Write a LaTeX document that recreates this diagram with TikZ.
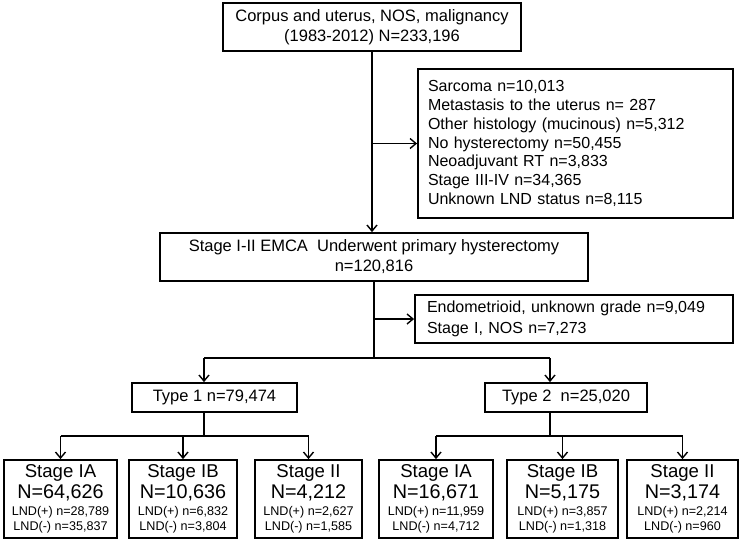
\documentclass[tikz,border=0pt]{standalone}
\usepackage{fontspec}
\setmainfont{Liberation Sans}
\usetikzlibrary{arrows.meta,calc}
\begin{document}
\begin{tikzpicture}[x=1pt,y=-1pt,
  box/.style={draw,line width=1.8pt,inner sep=0pt,align=center},
  body/.style={font=\fontsize{16.5}{20}\selectfont},
  listbox/.style={draw,line width=1.8pt,inner ysep=0pt,align=left,font=\fontsize{16}{18.9}\selectfont},
  stagebox/.style={box,minimum height=78,font=\fontsize{12.6}{15}\selectfont},
  conn/.style={line width=1.4pt},
  arr/.style={conn,-{Straight Barb[length=6pt,width=10pt,line width=1.4pt]}}]
\path[fill=white] (0,0) rectangle (742,542);
\useasboundingbox (0,0) rectangle (742,542);

\node[box,body,minimum width=298,minimum height=48] (top) at (372,27)
  {Corpus and uterus, NOS, malignancy\\(1983-2012) N=233,196};
\node[listbox,inner xsep=10pt,text width=295,minimum height=149] (ex1) at (575.5,143.5)
  {Sarcoma n=10,013\\Metastasis to the uterus n= 287\\Other histology (mucinous) n=5,312\\No hysterectomy n=50,455\\Neoadjuvant RT n=3,833\\Stage III-IV n=34,365\\Unknown LND status n=8,115};
\node[box,body,minimum width=428,minimum height=48] (main) at (374,257)
  {Stage I-II EMCA~~Underwent primary hysterectomy\\n=120,816};
\node[listbox,font=\fontsize{16}{20.5}\selectfont,inner xsep=12pt,text width=294,minimum height=48] (ex2) at (574,319)
  {Endometrioid, unknown grade n=9,049\\Stage I, NOS n=7,273};
\node[box,body,minimum width=165,minimum height=29] (t1) at (214.5,397.5) {Type 1 n=79,474};
\node[box,body,minimum width=162,minimum height=29] (t2) at (566,397.5) {Type 2~~n=25,020};

\newcommand{\stagetext}[3]{{\fontsize{18.6}{19}\selectfont Stage #1}\\[2pt]{\fontsize{19.8}{20}\selectfont N=#2}\\[2pt]#3}
\node[stagebox,minimum width=113] (s1a) at (60.5,499) {\stagetext{IA}{64,626}{LND(+) n=28,789\\LND(-) n=35,837}};
\node[stagebox,minimum width=108] (s1b) at (183,499) {\stagetext{IB}{10,636}{LND(+) n=6,832\\LND(-) n=3,804}};
\node[stagebox,minimum width=107] (s1c) at (308.5,499) {\stagetext{II}{4,212}{LND(+) n=2,627\\LND(-) n=1,585}};
\node[stagebox,minimum width=114] (s2a) at (436,499) {\stagetext{IA}{16,671}{LND(+) n=11,959\\LND(-) n=4,712}};
\node[stagebox,minimum width=111] (s2b) at (562.5,499) {\stagetext{IB}{5,175}{LND(+) n=3,857\\LND(-) n=1,318}};
\node[stagebox,minimum width=111] (s2c) at (682.5,499) {\stagetext{II}{3,174}{LND(+) n=2,214\\LND(-) n=960}};

% connectors
\draw[arr] (top.south) -- (top.south |- main.north);
\draw[arr] (top.south |- ex1.west) -- (ex1.west);
\coordinate (bus) at (374,358);
\coordinate (t1in) at (204,358);
\coordinate (t2in) at (550,358);
\draw[conn] (main.south) -- (bus);
\draw[arr] (main.south |- ex2.west) -- (ex2.west);
\draw[conn] (t1in) -- (t2in);
\draw[arr] (t1in) -- (t1in |- t1.north);
\draw[arr] (t2in) -- (t2in |- t2.north);

\coordinate (b1) at (204,436);
\coordinate (b2) at (550,436);
\draw[conn] (t1in |- t1.south) -- (b1);
\draw[conn] (t2in |- t2.south) -- (b2);
\draw[conn] (s1a.north |- b1) -- (s1c.north |- b1);
\draw[conn] (s2a.north |- b2) -- (s2c.north |- b2);
\foreach \n in {s1a,s1b,s1c} \draw[arr] (\n.north |- b1) -- (\n.north);
\foreach \n in {s2a,s2b,s2c} \draw[arr] (\n.north |- b2) -- (\n.north);
\end{tikzpicture}
\end{document}
